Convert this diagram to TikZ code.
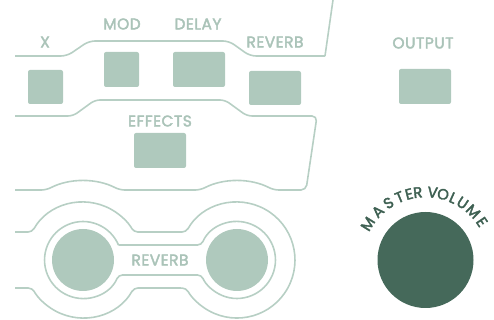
\documentclass[tikz,border=0pt]{standalone}
\usepackage{fontspec}
\setmainfont{Poppins}
\newfontfamily\padfont[FakeBold=2.5,LetterSpace=3]{Poppins}
\newfontfamily\knobfont[FakeBold=2.5]{Poppins}
\usetikzlibrary{positioning}
\definecolor{sage}{HTML}{AFC9BD}
\definecolor{sageline}{HTML}{B7CFC4}
\definecolor{sagetext}{HTML}{AAC3B8}
\definecolor{pine}{HTML}{45695A}
\definecolor{pinetext}{HTML}{3E6052}
\tikzset{
  pad/.style={fill=sage,rounded corners=2pt,inner sep=0pt},
  disc/.style={circle,fill=sage,inner sep=0pt,minimum size=62pt},
  lbl/.style={text=sagetext,font=\padfont\fontsize{15.5}{15.5}\selectfont,inner sep=0pt},
  rim/.style={draw=sageline,line width=1.6pt},
}
\begin{document}
\begin{tikzpicture}[x=1pt,y=1pt]
    \useasboundingbox (0,0) rectangle (494,320);
    % effect rows
    \draw[rim,rounded corners=6pt] (15,264) -- (67,264) -- (89,279) -- (229,279)
      -- (250,264) -- (325,264);
    \draw[rim] (325,264) -- (333,320);
    \draw[rim,rounded corners=5pt] (15,204) -- (73,204) -- (95,220) -- (225,220)
      -- (247,204) -- (317,204) -- (306,130)
      -- (273.6,130) arc[start angle=62.4,end angle=117.6,radius=79]
      -- (119.6,130) arc[start angle=62.4,end angle=117.6,radius=79] -- (15,130);
    % reverb footswitches
    \draw[rim,rounded corners=4pt] (15,88) -- (32.2,88)
      arc[start angle=151.1,end angle=28.9,radius=58] -- (186.2,88)
      arc[start angle=151.1,end angle=-151.1,radius=58] -- (133.8,32)
      arc[start angle=-28.9,end angle=-151.1,radius=58] -- (15,32);
    \draw[rim,rounded corners=4pt] (118.5,75) -- (201.5,75)
      arc[start angle=157.1,end angle=-157.1,radius=38.5] -- (118.5,45)
      arc[start angle=-22.9,end angle=-337.1,radius=38.5];
    \node[disc] (revleft) at (83,60) {};
    \node[disc] (revright) at (237,60) {};
    \node[lbl] (revlbl) at (160,60) {REVERB};
    % pads
    \node[pad,minimum width=35pt,minimum height=34pt] (xpad) at (45.5,233) {};
    \node[pad,minimum width=35pt,minimum height=35pt] (modpad) at (121.5,250.5) {};
    \node[pad,minimum width=52pt,minimum height=35pt] (delaypad) at (199,250.5) {};
    \node[pad,minimum width=52pt,minimum height=34pt] (revpad) at (275,232) {};
    \node[pad,minimum width=52pt,minimum height=35pt] (fxpad) at (160,169.5) {};
    \node[pad,minimum width=52pt,minimum height=35pt] (outpad) at (425,233.5) {};
    \node[lbl] (xlbl) at (45,278) {X};
    \node[lbl] (modlbl) at (122,296) {MOD};
    \node[lbl] (delaylbl) at (198,296) {DELAY};
    \node[lbl] (revtoplbl) at (275,278) {REVERB};
    \node[lbl] (fxlbl) at (160,199) {EFFECTS};
    \node[lbl] (outlbl) at (423,277) {OUTPUT};
    % master volume
    \node[circle,fill=pine,inner sep=0pt,minimum size=96pt] (master) at (425.5,60) {};
    \foreach \ch/\a [count=\i] in {M/148,A/134.5,S/123,T/112.5,E/104,R/96.5,
                                   V/84,O/75,L/66,U/57,M/45.5,E/34}
      \node[text=pinetext,font=\knobfont\fontsize{15}{15}\selectfont,inner sep=0pt,
            rotate=\a-90] (mv\i) at ([shift={(\a:68)}]master.center) {\ch};
\end{tikzpicture}
\end{document}
